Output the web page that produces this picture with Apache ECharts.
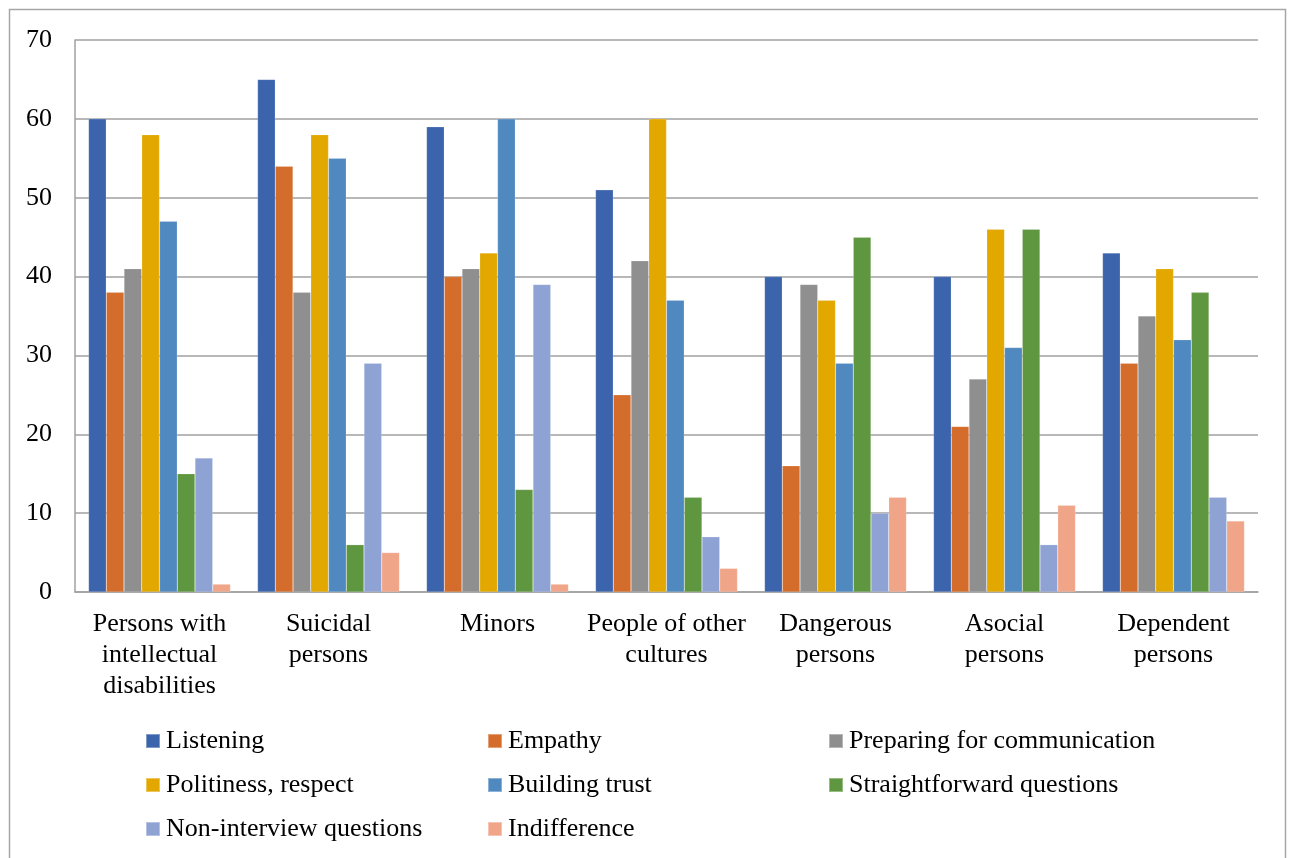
<!DOCTYPE html>
<html>
<head>
<meta charset="utf-8">
<script src="https://cdn.jsdelivr.net/npm/echarts@6/dist/echarts.min.js"></script>
<style>
  html, body { margin: 0; padding: 0; background: #fff; }
  #chart { width: 1292px; height: 858px; }
</style>
</head>
<body>
<div id="chart"></div>
<script>
// Target groups on the x axis
const categories = [
  'Persons with\nintellectual\ndisabilities',
  'Suicidal\npersons',
  'Minors',
  'People of other\ncultures',
  'Dangerous\npersons',
  'Asocial\npersons',
  'Dependent\npersons'
];

// Communication skills, one series each
const listening        = [60, 65, 59, 51, 40, 40, 43];
const empathy          = [38, 54, 40, 25, 16, 21, 29];
const preparing        = [41, 38, 41, 42, 39, 27, 35];
const politeness       = [58, 58, 43, 60, 37, 46, 41];
const buildingTrust    = [47, 55, 60, 37, 29, 31, 32];
const straightforward  = [15, 6, 13, 12, 45, 46, 38];
const nonInterview     = [17, 29, 39, 7, 10, 6, 12];
const indifference     = [1, 5, 1, 3, 12, 11, 9];

const yTicks = { min: 0, max: 70, interval: 10 };

const seriesDefs = [
  { name: 'Listening', data: listening, color: '#3B64AD' },
  { name: 'Empathy', data: empathy, color: '#D46D2B' },
  { name: 'Preparing for communication', data: preparing, color: '#8F8F8F' },
  { name: 'Politiness, respect', data: politeness, color: '#E2A800' },
  { name: 'Building trust', data: buildingTrust, color: '#4F89BF' },
  { name: 'Straightforward questions', data: straightforward, color: '#5F9741' },
  { name: 'Non-interview questions', data: nonInterview, color: '#8FA2D4' },
  { name: 'Indifference', data: indifference, color: '#F0A589' }
];

const FONT = '"Liberation Serif", "Times New Roman", serif';
const FS = 26;

function legendColumn(left, names) {
  return {
    orient: 'vertical',
    left: left,
    top: 728,
    data: names,
    icon: 'rect',
    itemWidth: 14,
    itemHeight: 14,
    itemGap: 18,
    selectedMode: false,
    textStyle: { fontFamily: FONT, fontSize: FS, color: '#000', lineHeight: 26, padding: [0, 0, 0, 1] },
    padding: 0
  };
}

const chart = echarts.init(document.getElementById('chart'), null, { renderer: 'canvas' });

chart.setOption({
  animation: false,
  backgroundColor: '#fff',
  textStyle: { fontFamily: FONT },
  graphic: [{
    type: 'rect',
    shape: { x: 9.5, y: 9.5, width: 1276, height: 900 },
    style: { fill: 'none', stroke: '#A6A6A6', lineWidth: 1.5 },
    silent: true
  }],
  legend: [
    legendColumn(145, ['Listening', 'Politiness, respect', 'Non-interview questions']),
    legendColumn(487, ['Empathy', 'Building trust', 'Indifference']),
    legendColumn(828, ['Preparing for communication', 'Straightforward questions'])
  ],
  grid: { left: 75, right: 34, top: 40, bottom: 266, containLabel: false },
  xAxis: {
    type: 'category',
    data: categories,
    axisLine: { show: true, lineStyle: { color: '#A0A0A0', width: 1.5 } },
    axisTick: { show: false },
    axisLabel: {
      interval: 0,
      margin: 17,
      fontFamily: FONT,
      fontSize: FS,
      lineHeight: 31,
      color: '#000',
      align: 'center'
    }
  },
  yAxis: {
    type: 'value',
    min: yTicks.min,
    max: yTicks.max,
    interval: yTicks.interval,
    axisLine: { show: true, lineStyle: { color: '#A0A0A0', width: 1.5 } },
    axisTick: { show: false },
    splitLine: { show: true, lineStyle: { color: '#A0A0A0', width: 1.5 } },
    axisLabel: { margin: 23, fontFamily: FONT, fontSize: FS, color: '#000' }
  },
  series: seriesDefs.map(s => ({
    name: s.name,
    type: 'bar',
    data: s.data,
    barGap: '0%',
    barCategoryGap: '16%',
    itemStyle: { color: s.color, borderColor: 'rgba(255,255,255,0.35)', borderWidth: 0.5 },
    emphasis: { disabled: true }
  }))
});
</script>
</body>
</html>
